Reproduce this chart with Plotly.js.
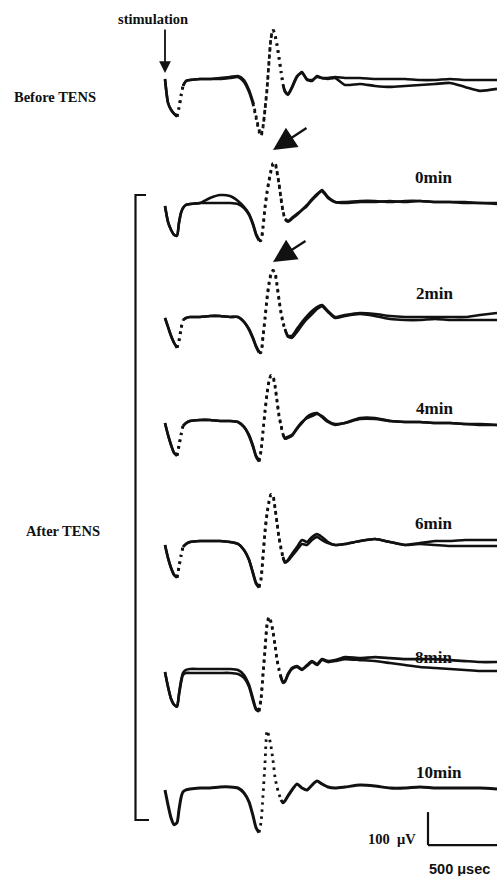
<!DOCTYPE html>
<html><head><meta charset="utf-8">
<script src="https://cdn.plot.ly/plotly-3.0.1.min.js"></script>
<style>html,body{margin:0;padding:0;background:#fff}#chart{width:497px;height:876px}</style>
</head><body><div id="chart"></div>
<script>
// ---- DATA (time in microseconds after stimulation, amplitude in microvolts) ----
const timeUs = [0,21,42,63,84,98,112,126,147,175,245,315,385,455,511,553,588,616,637,658,672,686,700,714,728,742,756,770,784,798,812,826,840,861,889,924,959,994,1029,1064,1099,1141,1190,1260,1365,1470,1575,1680,1785,1890,1995,2100,2205,2324];

const rowLabels = ['Before TENS','0min','2min','4min','6min','8min','10min'];

const beforeA = [0,-72,-93,-105,-114,-87,-51,-21,-6,-3,0,0,0,3,6,-9,-39,-75,-117,-159,-174,-147,-93,-33,51,123,147,132,102,63,21,-18,-39,-48,-27,6,21,-3,-6,9,3,3,6,3,3,0,0,0,-3,-3,0,-3,-3,-3];
const beforeB = [0,-72,-93,-105,-114,-87,-51,-21,-6,-3,0,0,3,6,9,-3,-33,-69,-111,-153,-168,-144,-90,-30,54,126,150,135,105,66,24,-15,-36,-45,-24,9,18,0,-3,6,3,0,3,-18,-15,-21,-24,-21,-18,-15,-12,-24,-36,-30];
const min0A = [-9,-57,-81,-96,-99,-60,-30,-15,-6,-3,0,0,0,0,-3,-15,-36,-66,-96,-114,-114,-75,-15,30,66,96,117,123,96,60,15,-24,-48,-54,-45,-33,-21,-9,9,24,39,18,3,0,3,3,6,3,6,3,3,0,0,-3];
const min0B = [-9,-57,-81,-96,-99,-60,-30,-15,-6,-3,0,15,24,21,6,-12,-33,-63,-93,-111,-111,-72,-12,33,69,99,120,120,93,57,12,-27,-51,-57,-48,-36,-21,-6,12,27,36,15,3,3,6,6,3,6,6,3,3,3,0,0];
const min2A = [-3,-30,-57,-78,-93,-72,-36,-9,-3,0,0,3,3,0,0,-15,-39,-66,-90,-108,-108,-60,-6,54,99,129,141,135,99,54,15,-15,-36,-57,-57,-36,-15,3,18,30,36,18,0,6,12,9,3,0,0,0,0,0,6,12];
const min2B = [-3,-30,-57,-78,-93,-72,-36,-9,-3,0,0,3,3,0,0,-15,-36,-63,-87,-105,-105,-57,-3,57,102,132,141,132,96,51,12,-18,-39,-60,-63,-45,-24,-6,9,24,33,15,-3,3,9,3,-6,-9,-9,-6,-9,-9,-9,-9];
const min4A = [-6,-42,-72,-96,-105,-75,-42,-15,-6,0,3,3,0,0,-3,-18,-42,-75,-105,-120,-90,-30,30,84,120,138,132,105,60,15,-15,-42,-54,-51,-45,-24,-6,12,21,24,12,-3,-12,-6,9,9,0,-3,-3,-6,-6,-9,-12,-12];
const min4B = [-6,-42,-72,-96,-105,-75,-42,-15,-6,0,3,3,0,0,-3,-18,-45,-78,-108,-123,-93,-33,27,81,120,138,135,108,63,18,-12,-39,-51,-48,-42,-21,-3,9,15,21,15,0,-9,-6,6,6,0,-3,-3,-6,-6,-9,-9,-12];
const min6A = [-9,-48,-78,-99,-108,-75,-42,-15,-6,0,3,3,3,0,-6,-24,-54,-96,-126,-138,-114,-45,30,84,120,144,141,105,60,15,-18,-45,-60,-54,-36,-15,6,0,15,24,15,0,-9,-6,3,9,0,-9,-3,3,3,6,6,6];
const min6B = [-9,-48,-78,-99,-108,-75,-42,-15,-6,0,3,3,3,0,-6,-24,-54,-93,-123,-135,-111,-42,33,87,123,144,138,102,57,12,-21,-48,-63,-57,-42,-24,-6,-9,6,15,6,-3,-9,-6,3,9,0,-9,-6,-9,-12,-12,-12,-12];
const min8A = [-9,-54,-90,-108,-114,-75,-36,-12,-3,0,0,0,0,0,-3,-18,-48,-90,-120,-126,-90,-15,60,135,159,144,114,75,30,0,-24,-39,-36,-15,3,9,0,12,24,15,30,24,27,36,33,36,33,30,30,30,27,24,21,21];
const min8B = [-9,-54,-90,-108,-114,-78,-42,-18,-12,-12,-12,-12,-12,-12,-15,-27,-54,-96,-123,-129,-93,-18,57,132,156,141,111,72,27,-3,-27,-42,-39,-18,0,6,-3,9,21,12,27,21,24,30,27,24,18,12,6,3,0,-3,-6,-6];
const min10A = [-6,-51,-90,-111,-105,-66,-30,-12,-6,-3,0,0,3,3,0,-15,-42,-84,-120,-135,-105,-24,75,174,156,126,84,33,3,-18,-36,-45,-39,-24,-6,12,0,-6,9,21,12,3,0,3,9,6,0,0,3,0,0,0,0,-3];

const rowSweeps = [[beforeA,beforeB],[min0A,min0B],[min2A,min2B],[min4A,min4B],[min6A,min6B],[min8A,min8B],[min10A]];

// ---- LAYOUT / STYLE ----
const W = 497, H = 876;
const usPerPx = 7, zeroPx = 165, pxPerUv = 0.33;
const baselinePx = [79,203,317,421,542,669,788];
const dotWindows = [
  [[84,126],[616,826]],
  [[658,840]],
  [[84,126],[658,840]],
  [[84,126],[658,826]],
  [[84,126],[658,826]],
  [[658,812]],
  [[658,812]]
];
const INK = '#111';
const px = v => v / W;
const py = v => 1 - v / H;

const traces = [];
rowSweeps.forEach((sweeps, r) => {
  const yax = r === 0 ? 'y' : 'y' + (r + 1);
  const wins = dotWindows[r];
  const solidW = sweeps.length === 1 ? 3.0 : 2.6;
  sweeps.forEach(vals => {
    const inside = t => wins.some(w => t > w[0] && t < w[1]);
    traces.push({
      x: timeUs, y: vals.map((v, i) => inside(timeUs[i]) ? null : v),
      yaxis: yax, mode: 'lines', hoverinfo: 'skip', connectgaps: false,
      line: {color: INK, width: solidW, shape: 'spline', smoothing: 0.6}
    });
    wins.forEach(w => {
      const xs = [], ys = [];
      timeUs.forEach((t, i) => { if (t >= w[0] && t <= w[1]) { xs.push(t); ys.push(vals[i]); } });
      traces.push({
        x: xs, y: ys, yaxis: yax, mode: 'lines', hoverinfo: 'skip',
        line: {color: INK, width: 2.8, dash: '2.5px,4.5px', shape: 'spline', smoothing: 0.6}
      });
    });
  });
});

const layout = {
  width: W, height: H, margin: {l: 0, r: 0, t: 0, b: 0},
  paper_bgcolor: '#fff', plot_bgcolor: 'rgba(0,0,0,0)', showlegend: false,
  xaxis: {visible: false, range: [-zeroPx * usPerPx, (W - zeroPx) * usPerPx], domain: [0, 1], fixedrange: true},
  shapes: [], annotations: []
};
baselinePx.forEach((b, r) => {
  const key = r === 0 ? 'yaxis' : 'yaxis' + (r + 1);
  layout[key] = {visible: false, range: [(b - H) / pxPerUv, b / pxPerUv], domain: [0, 1], fixedrange: true};
  if (r > 0) layout[key].overlaying = 'y';
});

// bracket for "After TENS"
layout.shapes.push({type: 'path', xref: 'paper', yref: 'paper',
  path: `M ${px(146)},${py(195)} L ${px(135.5)},${py(195)} L ${px(135.5)},${py(820)} L ${px(149)},${py(820)}`,
  line: {color: INK, width: 2.2}});

// scale bar (100 µV, 500 µs) drawn in data units of the last row
const scaleOrigin = {t: 1841, v: -173};
layout.shapes.push({type: 'line', xref: 'x', yref: 'y7', x0: scaleOrigin.t, x1: scaleOrigin.t, y0: scaleOrigin.v, y1: scaleOrigin.v + 100, line: {color: INK, width: 2.2}});
layout.shapes.push({type: 'line', xref: 'x', yref: 'y7', x0: scaleOrigin.t, x1: scaleOrigin.t + 500, y0: scaleOrigin.v, y1: scaleOrigin.v, line: {color: INK, width: 2.2}});

const serif = 'Liberation Serif, Times New Roman, serif';
const sans = 'Liberation Sans, Arial, sans-serif';
function label(text, x, y, size, anchor, fam) {
  layout.annotations.push({text: '<b>' + text + '</b>', xref: 'paper', yref: 'paper', x: px(x), y: py(y),
    xanchor: anchor, yanchor: 'middle', showarrow: false, font: {family: fam || serif, size: size, color: INK}});
}
label('stimulation', 153, 19, 14.5, 'center');
label(rowLabels[0], 12, 97, 14.5, 'left');
label('After TENS', 24, 531, 14.5, 'left');
const minLabelPos = [null, [413, 178], [414, 293], [414, 408], [413, 523], [413, 657], [414, 772]];
for (let r = 1; r < rowLabels.length; r++) label(rowLabels[r], minLabelPos[r][0], minLabelPos[r][1], 17, 'left');
label('100  μV', 418, 839, 14.5, 'right');
label('500 μsec', 427, 869, 14.5, 'left', sans);

function arrow(tipX, tipY, tailX, tailY, size, w) {
  layout.annotations.push({text: '', xref: 'paper', yref: 'paper', x: px(tipX), y: py(tipY),
    ax: tailX - tipX, ay: tailY - tipY, showarrow: true, arrowhead: 2, arrowsize: size, arrowwidth: w, arrowcolor: INK});
}
arrow(165, 73, 165, 28, 1.3, 1.8);
arrow(273, 150, 308, 127, 2.0, 2.3);
arrow(273, 262, 307, 240, 2.0, 2.3);

Plotly.newPlot('chart', traces, layout, {staticPlot: true, displayModeBar: false});
</script></body></html>
